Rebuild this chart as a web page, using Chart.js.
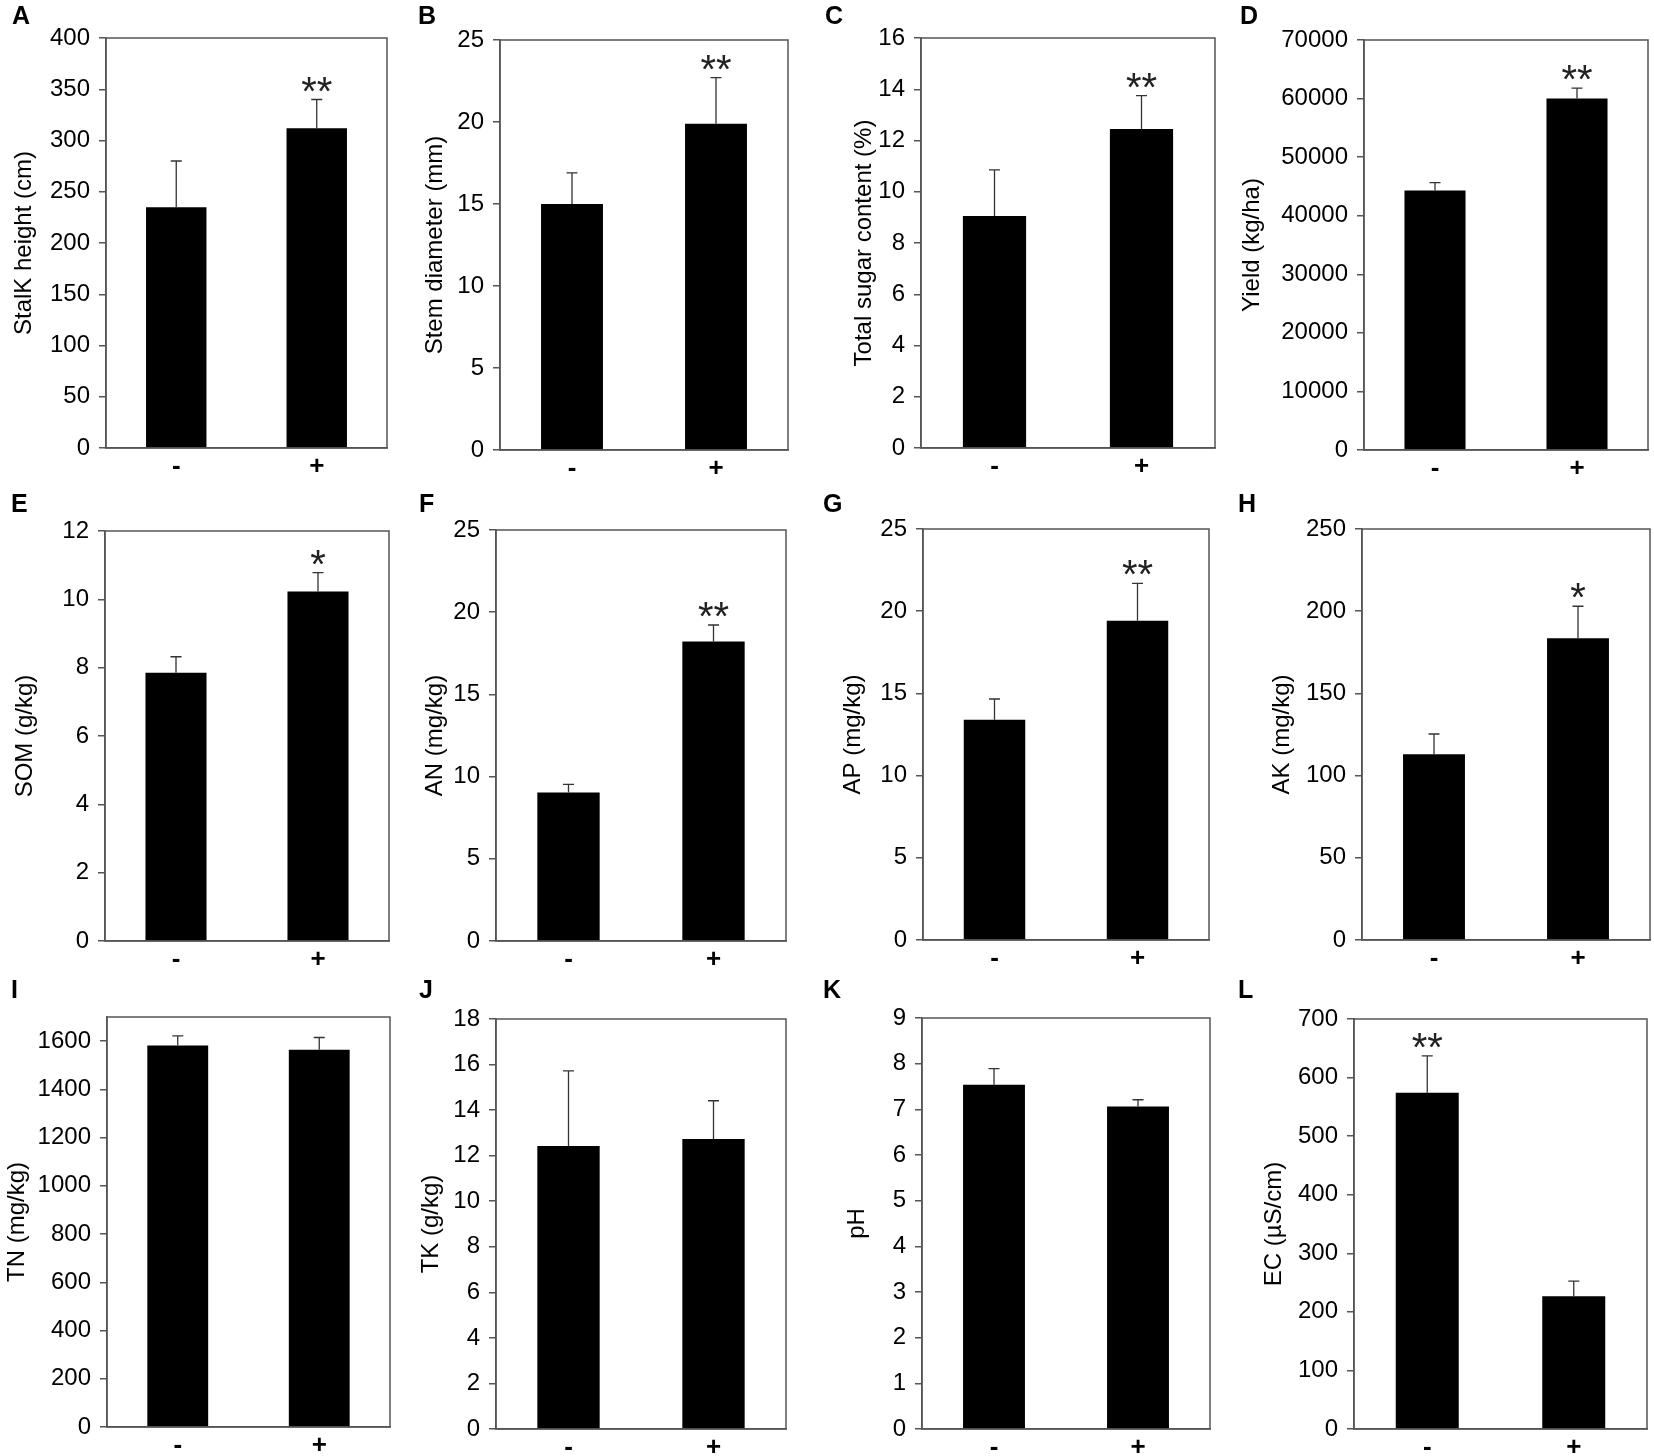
<!DOCTYPE html>
<html>
<head>
<meta charset="utf-8">
<script src="https://cdn.jsdelivr.net/npm/chart.js@4.4.1/dist/chart.umd.min.js"></script>
<style>
  html, body { margin: 0; padding: 0; background: #fff; }
  body { width: 1654px; height: 1456px; position: relative; overflow: hidden;
         font-family: 'Liberation Sans', Arial, sans-serif; }
  canvas { position: absolute; }
  .letter { position: absolute; font-weight: bold; font-size: 25px; line-height: 25px; color: #000; }
</style>
</head>
<body>
<script>
// groups on the x axis (without / with treatment)
const groups = ['-', '+'];

// mean values and error (upper whisker)
const stalkHeight = [235, 312];
const stalkHeightErr = [45, 28];
const stemDiameter = [15.0, 19.9];
const stemDiameterErr = [1.9, 2.8];
const sugarContent = [9.05, 12.45];
const sugarContentErr = [1.8, 1.3];
const yieldValues = [44300, 60000];
const yieldErr = [1350, 1800];
const som = [7.85, 10.23];
const somErr = [0.47, 0.55];
const an = [9.03, 18.22];
const anErr = [0.5, 1.0];
const ap = [13.4, 19.42];
const apErr = [1.26, 2.27];
const ak = [113, 183.5];
const akErr = [12.3, 19.5];
const tn = [1582, 1564];
const tnErr = [40, 51];
const tk = [12.42, 12.73];
const tkErr = [3.3, 1.68];
const ph = [7.54, 7.06];
const phErr = [0.35, 0.15];
const ec = [574, 226.5];
const ecErr = [63, 26];

// significance marks per bar
const starsPlus = ['', '**'];
const starPlus = ['', '*'];
const noStars = ['', ''];
const starsMinus = ['**', ''];

// y axis: [max, step]
const yAxes = [
  [400, 50], [25, 5], [16, 2], [70000, 10000],
  [12, 2], [25, 5], [25, 5], [250, 50],
  [1700, 200], [18, 2], [9, 1], [700, 100]
];

const panels = [
  { letter: 'A', title: 'StalK height (cm)', values: stalkHeight, errors: stalkHeightErr, marks: starsPlus },
  { letter: 'B', title: 'Stem diameter (mm)', values: stemDiameter, errors: stemDiameterErr, marks: starsPlus },
  { letter: 'C', title: 'Total sugar content (%)', values: sugarContent, errors: sugarContentErr, marks: starsPlus },
  { letter: 'D', title: 'Yield (kg/ha)', values: yieldValues, errors: yieldErr, marks: starsPlus },
  { letter: 'E', title: 'SOM (g/kg)', values: som, errors: somErr, marks: starPlus },
  { letter: 'F', title: 'AN (mg/kg)', values: an, errors: anErr, marks: starsPlus },
  { letter: 'G', title: 'AP (mg/kg)', values: ap, errors: apErr, marks: starsPlus },
  { letter: 'H', title: 'AK (mg/kg)', values: ak, errors: akErr, marks: starPlus },
  { letter: 'I', title: 'TN (mg/kg)', values: tn, errors: tnErr, marks: noStars },
  { letter: 'J', title: 'TK (g/kg)', values: tk, errors: tkErr, marks: noStars },
  { letter: 'K', title: 'pH', values: ph, errors: phErr, marks: noStars },
  { letter: 'L', title: 'EC (\u00b5S/cm)', values: ec, errors: ecErr, marks: starsMinus }
];

// layout: plot boxes [left, top, right, bottom] in page pixels
const plotBoxes = [
  [106, 38, 387, 448], [500, 40, 788, 450], [921, 38, 1215, 448], [1364, 40, 1648, 450],
  [105, 531, 389, 941], [496, 530, 786, 941], [923, 529, 1209, 940], [1362, 529, 1650, 940],
  [107, 1017, 390, 1427], [496, 1019, 786, 1429], [922, 1018, 1210, 1429], [1354, 1019, 1647, 1429]
];
// distance of the y title centre from the plot's left edge
const titleOffsets = [82, 65, 57, 112, 80, 61, 70, 80, 90, 65, 65, 80];
// panel letter [left, top]
const letterPos = [
  [12, 3], [418, 3], [825, 3], [1240, 3],
  [11, 491], [419, 491], [823, 491], [1238, 491],
  [11, 977], [419, 977], [823, 977], [1238, 977]
];

const FONT = "'Liberation Sans', Arial, sans-serif";
const AXIS_W = 140;   // y axis box width
const AXIS_H = 50;    // x axis box height
const PAD_T = 30;
const PAD_R = 8;

const errorBarPlugin = {
  id: 'errorBars',
  afterDatasetsDraw(chart) {
    const ds = chart.data.datasets[0];
    const meta = chart.getDatasetMeta(0);
    const y = chart.scales.y;
    const ctx = chart.ctx;
    ctx.save();
    meta.data.forEach((bar, i) => {
      const top = y.getPixelForValue(ds.data[i] + ds.errors[i]);
      ctx.strokeStyle = '#333';
      ctx.lineWidth = 1.3;
      ctx.beginPath();
      ctx.moveTo(bar.x, bar.y);
      ctx.lineTo(bar.x, top);
      ctx.moveTo(bar.x - 5.5, top);
      ctx.lineTo(bar.x + 5.5, top);
      ctx.stroke();
      const mark = ds.marks[i];
      if (mark) {
        ctx.font = '40px ' + FONT;
        ctx.fillStyle = '#222';
        ctx.textAlign = 'center';
        ctx.textBaseline = 'alphabetic';
        const m = ctx.measureText(mark);
        ctx.fillText(mark, bar.x, top - 8 - m.actualBoundingBoxDescent);
      }
    });
    ctx.restore();
  }
};

const framePlugin = {
  id: 'frame',
  afterDraw(chart) {
    const a = chart.chartArea;
    const ctx = chart.ctx;
    ctx.save();
    ctx.strokeStyle = '#555';
    ctx.lineWidth = 1.5;
    ctx.strokeRect(a.left, a.top, a.right - a.left, a.bottom - a.top);
    ctx.restore();
  }
};

panels.forEach((p, i) => {
  const [l, t, r, b] = plotBoxes[i];
  const [yMax, yStep] = yAxes[i];

  const canvas = document.createElement('canvas');
  canvas.width = (r - l) + AXIS_W + PAD_R;
  canvas.height = PAD_T + (b - t) + AXIS_H;
  canvas.style.left = (l - AXIS_W) + 'px';
  canvas.style.top = (t - PAD_T) + 'px';
  document.body.appendChild(canvas);

  const letter = document.createElement('div');
  letter.className = 'letter';
  letter.textContent = p.letter;
  letter.style.left = letterPos[i][0] + 'px';
  letter.style.top = letterPos[i][1] + 'px';
  document.body.appendChild(letter);

  new Chart(canvas, {
    type: 'bar',
    data: {
      labels: groups,
      datasets: [{
        data: p.values,
        errors: p.errors,
        marks: p.marks,
        backgroundColor: '#000',
        borderWidth: 0,
        barPercentage: 0.43,
        categoryPercentage: 1
      }]
    },
    options: {
      responsive: false,
      animation: false,
      events: [],
      layout: { padding: { top: PAD_T, right: PAD_R, left: 0, bottom: 0 } },
      plugins: { legend: { display: false }, tooltip: { enabled: false } },
      scales: {
        x: {
          grid: { display: false },
          border: { display: true, color: '#555', width: 1.5 },
          ticks: { color: '#000', padding: -5, font: { family: FONT, size: 26, weight: 'bold' } },
          afterFit: (scale) => { scale.height = AXIS_H; }
        },
        y: {
          min: 0,
          max: yMax,
          grid: { display: true, drawOnChartArea: false, drawTicks: true, tickLength: 7, color: '#555', lineWidth: 1.5 },
          border: { display: true, color: '#555', width: 1.5 },
          ticks: {
            stepSize: yStep,
            includeBounds: false,
            autoSkip: false,
            color: '#000',
            padding: 9,
            font: { family: FONT, size: 24 },
            callback: (v) => String(v)
          },
          afterBuildTicks: (scale) => {
            scale.ticks = scale.ticks.filter(tk => Math.abs(tk.value / yStep - Math.round(tk.value / yStep)) < 1e-9);
          },
          title: {
            display: true,
            text: p.title,
            color: '#000',
            font: { family: FONT, size: 24, lineHeight: 1.2 },
            padding: { top: AXIS_W - titleOffsets[i] - 14, bottom: 0 }
          },
          afterFit: (scale) => { scale.width = AXIS_W; }
        }
      }
    },
    plugins: [errorBarPlugin, framePlugin]
  });
});
</script>
</body>
</html>
